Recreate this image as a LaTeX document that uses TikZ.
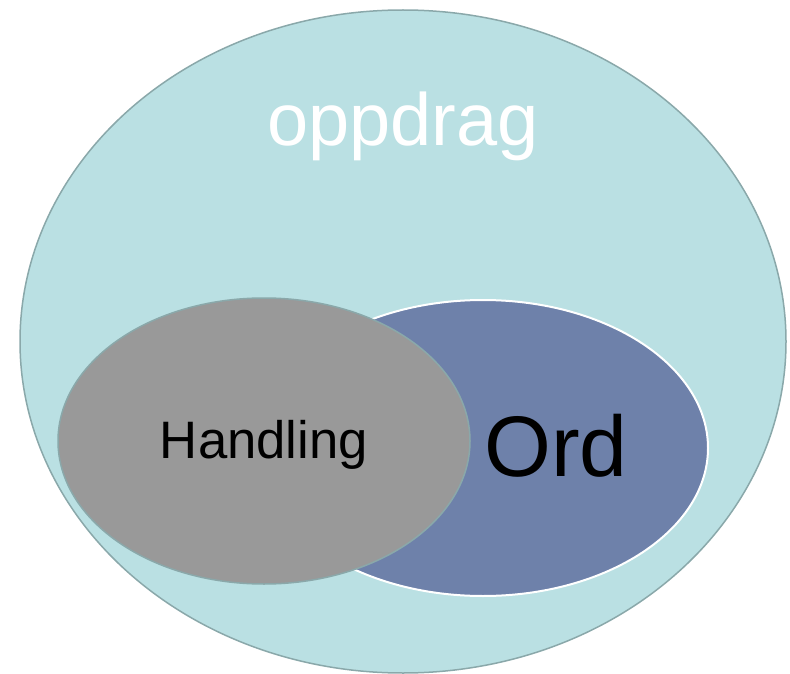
\documentclass[tikz,border=0pt]{standalone}
\usepackage{fontspec}
\setmainfont{Liberation Sans}
\usepackage{xcolor}
\definecolor{outerfill}{HTML}{BAE0E3}
\definecolor{outerline}{HTML}{8AA8AA}
\definecolor{ordfill}{HTML}{6E81AA}
\definecolor{handfill}{HTML}{999999}
\begin{document}
\begin{tikzpicture}[x=1pt,y=-1pt]
    \tikzstyle{Outer}=[fill=outerfill,draw=outerline,line width=1.5pt]
    \tikzstyle{Ordset}=[fill=ordfill,draw=white,line width=2pt]
    \tikzstyle{Handset}=[fill=handfill,draw=outerline,line width=1.5pt]

    \useasboundingbox (0,0) rectangle (790,674);

    % Ellipses
    \draw [Outer] (403,341.5) ellipse [x radius=383, y radius=331.5];
    \draw [Ordset] (483,448) ellipse [x radius=225, y radius=148];
    \draw [Handset] (264,441) ellipse [x radius=206, y radius=143];

    % Labels
    \node (oppdrag) at (403,126) [text=white,font=\fontsize{74}{80}\selectfont] {oppdrag};
    \node (ord) at (556,446) [font=\fontsize{86}{92}\selectfont] {Ord};
    \node (handling) at (264,445) [font=\fontsize{52.7}{58}\selectfont] {Handling};
\end{tikzpicture}
\end{document}
